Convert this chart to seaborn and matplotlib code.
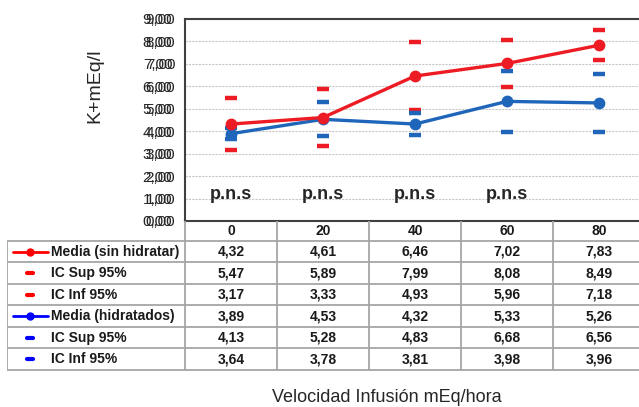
import matplotlib
matplotlib.use("Agg")
import matplotlib.pyplot as plt
from matplotlib.lines import Line2D
import seaborn as sns
import pandas as pd
import numpy as np

# --- data ---
velocidades = ["0", "20", "40", "60", "80"]
media_sin = [4.32, 4.61, 6.46, 7.02, 7.83]
sup_sin = [5.47, 5.89, 7.99, 8.08, 8.49]
inf_sin = [3.17, 3.33, 4.93, 5.96, 7.18]
media_hid = [3.89, 4.53, 4.32, 5.33, 5.26]
sup_hid = [4.13, 5.28, 4.83, 6.68, 6.56]
inf_hid = [3.64, 3.78, 3.81, 3.98, 3.96]
pns_pos = [0, 1, 2, 3]
pns_label = "p.n.s"
pns_y = 1.2

row_names = ["Media (sin hidratar)", "IC Sup 95%", "IC Inf 95%",
             "Media (hidratados)", "IC Sup 95%", "IC Inf 95%"]
rows = [media_sin, sup_sin, inf_sin, media_hid, sup_hid, inf_hid]

RED = "#ED1C24"
BLUE = "#1F66BA"
RED_LEG = "#FF0000"
BLUE_LEG = "#0000FF"
GRID = "#C8C8C8"
LINE = "#A6A6A6"
DARK = "#404040"

sns.set_theme(style="white")
plt.rcParams["font.family"] = ["Liberation Sans", "DejaVu Sans"]

W, H = 639, 407
fig = plt.figure(figsize=(W / 100, H / 100), dpi=100)

# plot area in pixels: x 185..645, y 19..221
ax = fig.add_axes([185 / W, (H - 221) / H, 460 / W, 202 / H])

pos = np.arange(len(velocidades))
means = pd.DataFrame({
    "pos": np.concatenate([pos, pos]),
    "val": media_sin + media_hid,
    "serie": ["sin"] * 5 + ["hid"] * 5,
})
ics = pd.DataFrame({
    "pos": np.concatenate([pos] * 4),
    "val": sup_sin + inf_sin + sup_hid + inf_hid,
    "serie": ["sin"] * 10 + ["hid"] * 10,
})
pal = {"sin": RED, "hid": BLUE}

sns.scatterplot(data=ics, x="pos", y="val", hue="serie", palette=pal,
                marker="_", s=70, linewidth=3.2, legend=False, ax=ax, zorder=3)
sns.lineplot(data=means, x="pos", y="val", hue="serie", palette=pal,
             marker="o", markersize=8.5, markeredgewidth=0, linewidth=2.4,
             legend=False, ax=ax, zorder=4, hue_order=["hid", "sin"])

for p in pns_pos:
    ax.text(p, pns_y, pns_label, ha="center", va="center",
            fontsize=13, fontweight="bold", color="#262626")

ax.set_xlim(-0.5, 4.5)
ax.set_ylim(0, 9)
ax.set_yticks(range(10))
ticklabels = [f"{v},00" for v in range(10)]
ax.set_yticklabels(ticklabels)
ax.set_xticks(pos)
ax.set_xticklabels([])
ax.tick_params(axis="x", length=0)
ax.tick_params(axis="y", length=5, width=1.3, color=DARK, pad=2,
               labelsize=11, labelcolor="#262626")
ax.yaxis.grid(True, color=GRID, linestyle=(0, (2, 1)), linewidth=0.8)
ax.set_axisbelow(True)
for side in ["left", "top", "bottom"]:
    ax.spines[side].set_color(DARK)
    ax.spines[side].set_linewidth(1.5)
ax.spines["right"].set_visible(False)
ax.set_xlabel("")
ax.set_ylabel("K+mEq/l", fontsize=14, color="#262626")
ax.yaxis.set_label_coords(-0.178, 0.668)

# doubled tick labels, as in the original export
sec = ax.secondary_yaxis(-3 / 460)
sec.set_yticks(range(10))
sec.set_yticklabels(ticklabels)
sec.tick_params(length=0, pad=7, labelsize=11, labelcolor="#262626")
sec.spines["left"].set_visible(False)

# --- data table under the chart ---
tax = fig.add_axes([7 / W, (H - 371) / H, 638 / W, 150 / H])
tax.set_xlim(7, 645)
tax.set_ylim(371, 221)
tax.axis("off")

col_edges = [7, 185, 277, 369, 461, 553, 645]
row_h = (370 - 241) / 6
row_edges = [241 + i * row_h for i in range(7)]

lw = 1.3
# header row (no label cell)
for x in col_edges[1:]:
    tax.plot([x, x], [221, 241], color=LINE, lw=lw)
for i, lab in enumerate(velocidades):
    cx = (col_edges[i + 1] + col_edges[i + 2]) / 2
    tax.text(cx, 231, lab, ha="center", va="center", fontsize=10,
             fontweight="bold", color="#1a1a1a")
for y in row_edges:
    tax.plot([7, 645], [y, y], color=LINE, lw=lw)
for x in col_edges:
    tax.plot([x, x], [241, row_edges[-1]], color=LINE, lw=lw)

for r, (name, vals) in enumerate(zip(row_names, rows)):
    cy = (row_edges[r] + row_edges[r + 1]) / 2
    col = RED_LEG if r < 3 else BLUE_LEG
    if r % 3 == 0:
        tax.plot([13, 48], [cy, cy], color=col, lw=2)
        tax.plot([30], [cy], marker="o", color=col, markersize=5)
    else:
        tax.plot([27, 33], [cy, cy], color=col, lw=3)
    tax.text(51, cy, name, ha="left", va="center", fontsize=10,
             fontweight="bold", color="#1a1a1a")
    for i, v in enumerate(vals):
        cx = (col_edges[i + 1] + col_edges[i + 2]) / 2
        tax.text(cx, cy, f"{v:.2f}".replace(".", ","), ha="center",
                 va="center", fontsize=10, fontweight="bold", color="#1a1a1a")

fig.text(387 / W, 1 - 397 / H, "Velocidad Infusión mEq/hora",
         ha="center", va="center", fontsize=13, color="#262626")

fig.savefig("out.png", dpi=100)
